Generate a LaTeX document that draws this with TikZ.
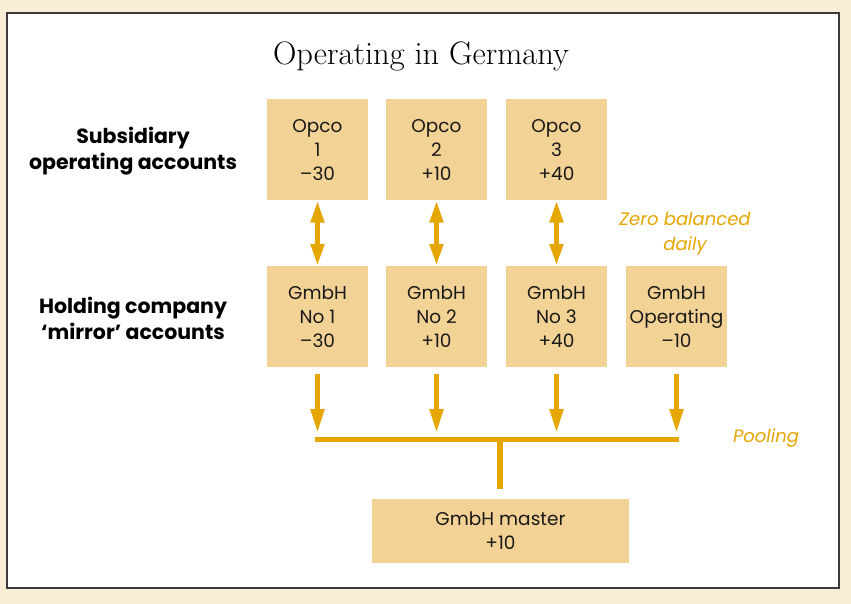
\documentclass[tikz,border=0pt]{standalone}
\usepackage{fontspec}
\newfontfamily\futura{Poppins}
\usetikzlibrary{arrows.meta}
\definecolor{cream}{HTML}{FAEDD6}
\definecolor{boxc}{HTML}{F3D296}
\definecolor{gold}{HTML}{E6A600}
\definecolor{frame}{HTML}{3A3A3A}
\begin{document}
\begin{tikzpicture}[x=1pt,y=-1pt,
  acct/.style={fill=boxc, minimum width=101pt, minimum height=101pt, inner sep=0pt,
    align=center, text=black!90, font=\futura\fontsize{18.5}{24}\selectfont},
  sidelabel/.style={align=center, font=\futura\bfseries\fontsize{20.5}{25.5}\selectfont},
  note/.style={align=center, text=gold, font=\futura\itshape\fontsize{18}{25}\selectfont},
  dbl/.style={draw=gold, line width=5pt, {Triangle[width=13pt,length=22pt]}-{Triangle[width=13pt,length=22pt]}},
  down/.style={draw=gold, line width=5pt, -{Triangle[width=13pt,length=24pt]}},
  bar/.style={draw=gold, line width=5.5pt}]
\useasboundingbox (0,0) rectangle (851,604);
\fill[cream] (0,0) rectangle (851,604);
\draw[fill=white, draw=frame, line width=1.6pt] (7,13) rectangle (839,588);

\node[font=\fontsize{32.5}{38}\selectfont] (title) at (421,56) {Operating in Germany};

\node[sidelabel] (lab1) at (133,151) {Subsidiary\\operating accounts};
\node[sidelabel] (lab2) at (133,318.5) {Holding company\\‘mirror’ accounts};

\node[acct] (o1) at (317.5,150) {Opco\\1\\–30};
\node[acct] (o2) at (436.5,150) {Opco\\2\\+10};
\node[acct] (o3) at (556.5,150) {Opco\\3\\+40};

\node[acct] (g1) at (317.5,316.5) {GmbH\\No 1\\–30};
\node[acct] (g2) at (436.5,316.5) {GmbH\\No 2\\+10};
\node[acct] (g3) at (556.5,316.5) {GmbH\\No 3\\+40};
\node[acct] (g4) at (676.5,316.5) {GmbH\\Operating\\–10};

\node[acct, minimum width=257pt, minimum height=64pt] (m) at (500.5,530.5) {GmbH master\\+10};

\node[note] (zb) at (685,234) {Zero balanced\\daily};
\node[note] (pool) at (766,438.5) {Pooling};

\draw[dbl] (o1) -- (g1);
\draw[dbl] (o2) -- (g2);
\draw[dbl] (o3) -- (g3);

\coordinate (s1) at (317.5,374); \coordinate (t1) at (317.5,433);
\coordinate (s2) at (436.5,374); \coordinate (t2) at (436.5,433);
\coordinate (s3) at (556.5,374); \coordinate (t3) at (556.5,433);
\coordinate (s4) at (676.5,374); \coordinate (t4) at (676.5,433);
\draw[down] (s1) -- (t1);
\draw[down] (s2) -- (t2);
\draw[down] (s3) -- (t3);
\draw[down] (s4) -- (t4);

\coordinate (barL) at (315,439.5);
\coordinate (barR) at (679,439.5);
\coordinate (barM) at (500,437);
\coordinate (stemE) at (500,489);
\draw[bar] (barL) -- (barR);
\draw[draw=gold, line width=6pt] (barM) -- (stemE);
\end{tikzpicture}
\end{document}
